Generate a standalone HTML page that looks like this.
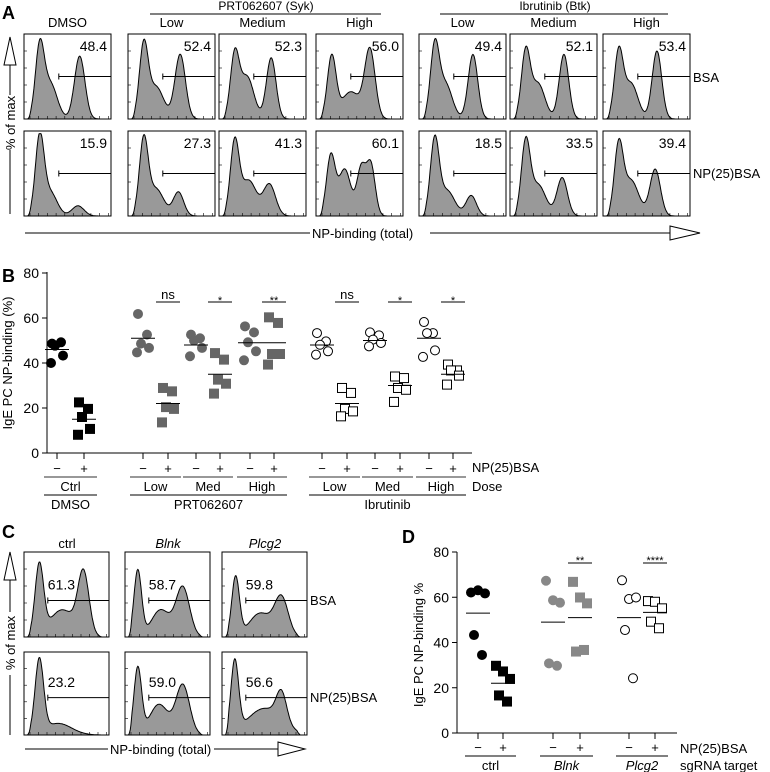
<!DOCTYPE html>
<html><head><meta charset="utf-8"><style>
body{margin:0;background:#fff}
svg{display:block;font-family:"Liberation Sans",Arial,sans-serif}
</style></head><body>
<svg id="fig" width="770" height="772" viewBox="0 0 770 772"></svg>
<script>
// ---------- Panel B data ----------
const bGroups = ["DMSO-","DMSO+","PRTLow-","PRTLow+","PRTMed-","PRTMed+","PRTHigh-","PRTHigh+","IbrLow-","IbrLow+","IbrMed-","IbrMed+","IbrHigh-","IbrHigh+"];
const bValues = [
 [48.6,49.2,47.7,43.3,40],[22.5,19.6,16,10.7,8.1],
 [61.8,52.6,48.6,46.7,44.7],[28.9,27.4,20.4,19.6,13.6],
 [52.6,51,50,46.7,43],[44.4,41.5,32.6,30.8,26.4],
 [56.3,53.6,49.2,45.2,41.2],[60.3,57.8,44,44,39.3],
 [53.3,49.6,48.1,45.2,43.7],[28.9,26.7,19.6,18.5,16.3],
 [53.6,52.3,50.4,48.9,47.4],[34,33.3,28.9,28.1,22.7],
 [58.2,53.3,53.3,45.6,42.7],[39.3,36.7,36.7,34.4,30.4]];
const bMeans = [46,15,51,22,48,35,49,49,48,22,50,30,51,35];
const bTicks = [0,20,40,60,80];
const bSig = ["ns","*","**","ns","*","*"];
// ---------- Panel D data ----------
const dGroups = ["ctrl-","ctrl+","Blnk-","Blnk+","Plcg2-","Plcg2+"];
const dValues = [[62.1,63.1,61.7,43.3,34.5],[29.7,27.2,23.9,16.6,13.9],
 [67.3,58.7,57.6,30.8,29.7],[66.8,59.9,57.3,36,36.7],
 [67.5,59.2,59.9,45.5,24.2],[58.3,58,55.1,49.2,46.3]];
const dMeans = [53,22,49,51,51,53.3];
const dTicks = [0,20,40,60,80];
const dSig = ["**","****"];
// ---------- Histogram data (peak: position, height, width) ----------
const aTopPeaks = [
 [[.18,.8,.05],[.3,.42,.08],[.64,.74,.06]],
 [[.18,.82,.05],[.32,.38,.09],[.6,.76,.06]],
 [[.18,.72,.05],[.32,.5,.08],[.6,.72,.055]],
 [[.18,.72,.05],[.4,.32,.11],[.62,.8,.06]],
 [[.18,.8,.05],[.3,.42,.08],[.62,.76,.055]],
 [[.18,.76,.05],[.32,.42,.08],[.62,.76,.055]],
 [[.18,.76,.05],[.32,.42,.08],[.62,.8,.055]]];
const aBotPeaks = [
 [[.18,.9,.05],[.3,.28,.08],[.62,.12,.07]],
 [[.18,.86,.05],[.32,.32,.09],[.58,.28,.06]],
 [[.18,.84,.05],[.34,.42,.09],[.58,.37,.07]],
 [[.17,.7,.05],[.33,.55,.07],[.52,.55,.05],[.63,.6,.05]],
 [[.18,.86,.05],[.32,.3,.09],[.6,.24,.06]],
 [[.18,.82,.05],[.32,.37,.09],[.6,.45,.06]],
 [[.18,.78,.05],[.32,.42,.09],[.6,.55,.06]]];
const aTopVals = ["48.4","52.4","52.3","56.0","49.4","52.1","53.4"];
const aBotVals = ["15.9","27.3","41.3","60.1","18.5","33.5","39.4"];
const cTopPeaks = [[[.18,.82,.05],[.45,.32,.15],[.7,.72,.065]],[[.15,.78,.045],[.42,.32,.11],[.68,.58,.08]],[[.16,.7,.045],[.45,.28,.13],[.7,.45,.08]]];
const cBotPeaks = [[[.18,.88,.05],[.4,.14,.16]],[[.15,.8,.045],[.4,.37,.11],[.68,.6,.08]],[[.15,.85,.045],[.5,.32,.2],[.7,.35,.06]]];
const cTopVals = ["61.3","58.7","59.8"];
const cBotVals = ["23.2","59.0","56.6"];

const NS="http://www.w3.org/2000/svg";
const svg=document.getElementById('fig');
function el(tag,attrs,parent,name){const e=document.createElementNS(NS,tag);for(const k in attrs)e.setAttribute(k,attrs[k]);
 
 
 (parent||svg).appendChild(e);return e;}
function txt(x,y,s,opts,name){const t=el('text',Object.assign({x:x,y:y,'font-size':13,fill:'#000'},opts||{}),svg,name||'label');t.textContent=s;return t;}
function line(x1,y1,x2,y2,name,w){return el('line',{x1,y1,x2,y2,stroke:'#000','stroke-width':w||1},svg,name||'line');}

function hist(x0,y0,w,h,peaks,val,gate,name){
 const g=el('g',{},svg,name);
 el('rect',{x:x0,y:y0,width:w,height:h,fill:'none',stroke:'#000','stroke-width':1},g,'histogram-frame');
 let d=`M${x0+0.04*w},${y0+h}`;
 for(let i=0;i<=120;i++){const u=0.04+0.88*i/120;let f=0;
  for(const p of peaks)f+=p[1]*Math.exp(-((u-p[0])**2)/(2*p[2]*p[2]));
  f=Math.min(f,0.97);
  const edge=Math.min(1,(u-0.04)/0.04,(0.92-u)/0.04);
  d+=` L${(x0+u*w).toFixed(1)},${(y0+h-f*Math.max(0,edge)*h).toFixed(1)}`;}
 d+=` L${x0+0.92*w},${y0+h} Z`;
 el('path',{d,fill:'#999',stroke:'#000','stroke-width':1},g,'histogram-curve');
 for(let i=0;i<10;i++){const tx=x0+6+i*w/10;el('line',{x1:tx,y1:y0+h,x2:tx,y2:y0+h-3,stroke:'#000','stroke-width':0.6},g,'x-tick');}
 for(let i=1;i<5;i++){const ty=y0+i*h/5;el('line',{x1:x0,y1:ty,x2:x0+3,y2:ty,stroke:'#000','stroke-width':0.6},g,'y-tick');}
 const gy=y0+gate.y*h;
 el('line',{x1:x0+gate.x*w,y1:gy,x2:x0+w,y2:gy,stroke:'#000','stroke-width':1},g,'gate-line');
 el('line',{x1:x0+gate.x*w,y1:gy-3,x2:x0+gate.x*w,y2:gy+3,stroke:'#000','stroke-width':1},g,'gate-end');
 const t=el('text',{x:gate.tx==='r'?x0+w-4:x0+gate.x*w,y:gate.ty==null?y0+17:y0+gate.ty*h,'font-size':14,'text-anchor':gate.tx==='r'?'end':'start'},g,'gate-percent');
 t.textContent=val;
}
// ---------- Panel A ----------
txt(2,19,'A',{'font-size':18,'font-weight':'bold'},'panel-a-label');
const aX=[24,128,219,316,419,510,603], aW=87;
const aHead=["DMSO","Low","Medium","High","Low","Medium","High"];
aX.forEach((x,i)=>{
 txt(x+aW/2,27,aHead[i],{'text-anchor':'middle'},'column-header');
 hist(x,34,aW,85,aTopPeaks[i],aTopVals[i],{x:.4,y:.5,tx:'r'},'histogram-bsa');
 hist(x,131,aW,85,aBotPeaks[i],aBotVals[i],{x:.4,y:.5,tx:'r'},'histogram-np25bsa');
});
txt(266,10,'PRT062607 (Syk)',{'text-anchor':'middle','font-size':12},'syk-group-title');
line(150,14,381,14,'syk-group-line');
txt(555,10,'Ibrutinib (Btk)',{'text-anchor':'middle','font-size':12},'btk-group-title');
line(440,14,668,14,'btk-group-line');
txt(693,82,'BSA',{},'row-label-bsa');
txt(693,178,'NP(25)BSA',{},'row-label-np25bsa');
line(25,233,310,233,'x-arrow-line');
txt(312,238,'NP-binding (total)',{},'x-axis-title-a');
line(430,233,670,233,'x-arrow-line');
el('polygon',{points:'670,226 700,233 670,240',fill:'#fff',stroke:'#000'},svg,'x-arrow-head');
el('polygon',{points:'4,65 10,37 16,65',fill:'#fff',stroke:'#000'},svg,'y-arrow-head');
line(10,65,10,95,'y-arrow-line');line(10,150,10,214,'y-arrow-line');
txt(0,0,'% of max',{'text-anchor':'middle',transform:'translate(15,123) rotate(-90)'},'y-axis-title-a');

// ---------- Panel B ----------
txt(2,282,'B',{'font-size':18,'font-weight':'bold'},'panel-b-label');
const bX0=47,bY0=453,bPx=2.25;
const bXpos=[57,84,143,168,196,220,250,274,322,347,375,400,429,453];
const by=v=>bY0-v*bPx;
line(bX0,272,bX0,bY0,'b-y-axis');line(bX0,bY0,472,bY0,'b-x-axis');
bTicks.forEach(t=>{line(bX0-5,by(t),bX0,by(t),'b-y-tick');txt(bX0-8,by(t)+5,String(t),{'text-anchor':'end','font-size':14},'b-y-tick-label');});
txt(0,0,'IgE PC NP-binding (%)',{'text-anchor':'middle',transform:'translate(12,363) rotate(-90)'},'b-y-axis-title');
bGroups.forEach((gname,i)=>{
 const xc=bXpos[i];const g=Math.floor(i/2);const plus=i%2===1;
 const col=g===0?'#000':(g<=3?'#666':'#fff');const stroke=g===0?'#000':(g<=3?'#666':'#000');
 bValues[i].forEach((v,j)=>{
  const cx=xc+[-5,4,-2,6,-6][j];
  if(!plus) el('circle',{cx,cy:by(v),r:4.5,fill:col,stroke,'stroke-width':1},svg,'point-'+gname);
  else el('rect',{x:cx-4.5,y:by(v)-4.5,width:9,height:9,fill:col,stroke,'stroke-width':1},svg,'point-'+gname);
 });
 line(xc-12,by(bMeans[i]),xc+12,by(bMeans[i]),'mean-'+gname);
 line(xc,bY0,xc,bY0+6,'b-x-tick');
 txt(xc,473,plus?'+':'−',{'text-anchor':'middle'},'sign-label');
});
bSig.forEach((s,k)=>{const x=bXpos[2+2*k+1];line(x-12,302,x+12,302,'sig-bar');txt(x,s==='ns'?299:304,s,{'text-anchor':'middle','font-size':s==='ns'?13:11},'sig-label');});
[[0,'Ctrl'],[1,'Low'],[2,'Med'],[3,'High'],[4,'Low'],[5,'Med'],[6,'High']].forEach(([g,l])=>{
 const x1=bXpos[2*g]-13,x2=bXpos[2*g+1]+13;el('line',{x1,y1:477,x2,y2:477,stroke:'#777','stroke-width':1.5},svg,'dose-underline');
 txt((x1+x2)/2,491,l,{'text-anchor':'middle'},'dose-label');});
[[0,0,'DMSO'],[1,3,'PRT062607'],[4,6,'Ibrutinib']].forEach(([a,b,l])=>{const x1=bXpos[2*a]-13,x2=bXpos[2*b+1]+13;line(x1,495,x2,495,'drug-underline');txt((x1+x2)/2,509,l,{'text-anchor':'middle'},'drug-label');});
txt(472,472,'NP(25)BSA',{},'b-np-label');txt(472,491,'Dose',{},'b-dose-label');

// ---------- Panel C ----------
txt(2,538,'C',{'font-size':18,'font-weight':'bold'},'panel-c-label');
const cX=[24,125,222],cHead=["ctrl","Blnk","Plcg2"];
cX.forEach((x,i)=>{
 txt(x+43,548,cHead[i],{'text-anchor':'middle','font-style':i?'italic':'normal'},'c-column-header');
 hist(x,552,85,85,cTopPeaks[i],cTopVals[i],{x:.28,y:.57,tx:'l',ty:.44},'c-histogram-bsa');
 hist(x,652,85,83,cBotPeaks[i],cBotVals[i],{x:.28,y:.55,tx:'l',ty:.42},'c-histogram-np25bsa');
});
txt(310,605,'BSA',{},'c-row-bsa');txt(310,702,'NP(25)BSA',{},'c-row-np25bsa');
line(25,749,108,749,'c-x-arrow-line');txt(110,754,'NP-binding (total)',{},'c-x-axis-title');line(214,749,278,749,'c-x-arrow-line');
el('polygon',{points:'278,742 305,749 278,756',fill:'#fff',stroke:'#000'},svg,'c-x-arrow-head');
el('polygon',{points:'4,580 10,552 16,580',fill:'#fff',stroke:'#000'},svg,'c-y-arrow-head');
line(10,580,10,612,'c-y-arrow-line');line(10,675,10,735,'c-y-arrow-line');
txt(0,0,'% of max',{'text-anchor':'middle',transform:'translate(15,643) rotate(-90)'},'c-y-axis-title');

// ---------- Panel D ----------
txt(402,543,'D',{'font-size':18,'font-weight':'bold'},'panel-d-label');
const dX0=457,dY0=733,dPx=181/80;
const dXpos=[478,503,553,580,629,655];
const dy=v=>dY0-v*dPx;
line(dX0,552,dX0,dY0,'d-y-axis');line(dX0,dY0,677,dY0,'d-x-axis');
dTicks.forEach(t=>{line(dX0-5,dy(t),dX0,dy(t),'d-y-tick');txt(dX0-8,dy(t)+5,String(t),{'text-anchor':'end','font-size':14},'d-y-tick-label');});
txt(0,0,'IgE PC NP-binding %',{'text-anchor':'middle',transform:'translate(423,645) rotate(-90)'},'d-y-axis-title');
dGroups.forEach((gname,i)=>{
 const xc=dXpos[i],g=Math.floor(i/2),plus=i%2===1;
 const col=g===0?'#000':(g===1?'#888':'#fff'),stroke=g===0?'#000':(g===1?'#888':'#000');
 dValues[i].forEach((v,j)=>{
  const xx=xc+[-7,0,7,-4,4][j];
  if(!plus) el('circle',{cx:xx,cy:dy(v),r:4.5,fill:col,stroke,'stroke-width':1},svg,'d-point-'+gname);
  else el('rect',{x:xx-4.5,y:dy(v)-4.5,width:9,height:9,fill:col,stroke,'stroke-width':1},svg,'d-point-'+gname);});
 line(xc-12,dy(dMeans[i]),xc+12,dy(dMeans[i]),'d-mean-'+gname);
 line(xc,dY0,xc,dY0+6,'d-x-tick');
 txt(xc,752,plus?'+':'−',{'text-anchor':'middle'},'d-sign-label');
});
dSig.forEach((s,k)=>{const x=dXpos[3+2*k];line(x-12,563,x+12,563,'d-sig-bar');txt(x,564,s,{'text-anchor':'middle','font-size':11},'d-sig-label');});
["ctrl","Blnk","Plcg2"].forEach((l,g)=>{const x1=dXpos[2*g]-13,x2=dXpos[2*g+1]+13;line(x1,756,x2,756,'d-underline');txt((x1+x2)/2,770,l,{'text-anchor':'middle','font-style':g?'italic':'normal'},'d-group-label');});
txt(680,753,'NP(25)BSA',{},'d-np-label');txt(680,770,'sgRNA target',{},'d-sgrna-label');
</script>
</body></html>
